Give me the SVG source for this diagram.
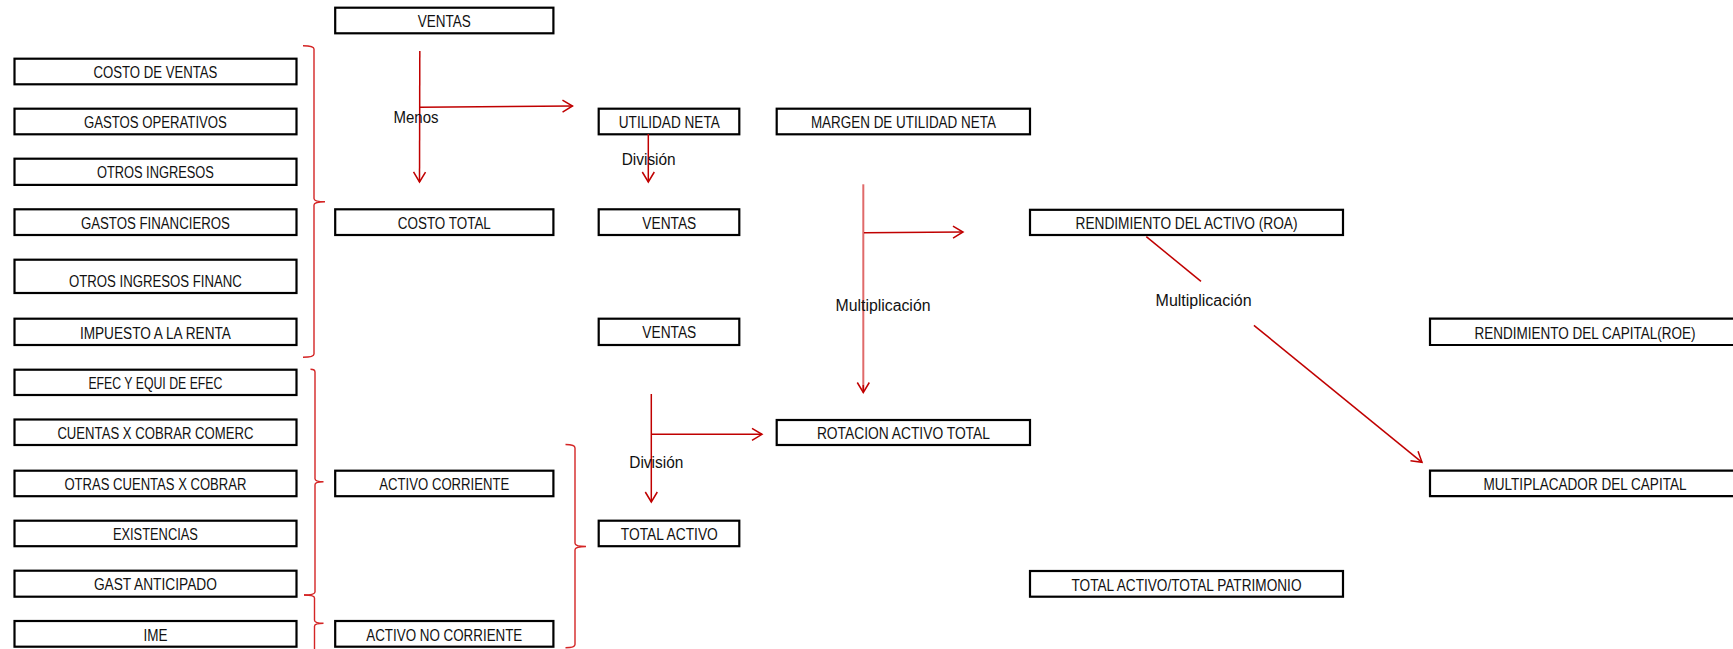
<svg xmlns="http://www.w3.org/2000/svg" width="1733" height="649" viewBox="0 0 1733 649">
  <style>
    .box { fill: #ffffff; stroke: #000000; stroke-width: 2.2; }
    .lbl { font-family: "Liberation Sans", Arial, sans-serif; font-size: 16px; fill: #111111; text-anchor: middle; }
    .op { font-family: "Liberation Sans", Arial, sans-serif; font-size: 16px; fill: #111111; text-anchor: middle; }
    .arrow { fill: none; stroke: #c00000; stroke-width: 1.5; }
    .soft { fill: none; stroke: #e06a6a; stroke-width: 2; }
    .brace { fill: none; stroke: #d42525; stroke-width: 1.4; }
  </style>
  <defs>
    <marker id="head" markerUnits="userSpaceOnUse" markerWidth="14" markerHeight="16" viewBox="0 0 14 16" refX="12" refY="8" orient="auto">
      <path d="M2,2 L12,8 L2,14" fill="none" stroke="#c00000" stroke-width="1.5"/>
    </marker>
  </defs>
  <rect width="1733" height="649" fill="#ffffff"/>

  <!-- left column: income statement items -->
  <g id="costo-de-ventas"><rect class="box" x="14.5" y="58.7" width="282" height="25.6"/><text class="lbl" x="155.4" y="78.2" textLength="124" lengthAdjust="spacingAndGlyphs">COSTO DE VENTAS</text></g>
  <g id="gastos-operativos"><rect class="box" x="14.5" y="108.7" width="282" height="25.6"/><text class="lbl" x="155.4" y="128.2" textLength="143" lengthAdjust="spacingAndGlyphs">GASTOS OPERATIVOS</text></g>
  <g id="otros-ingresos"><rect class="box" x="14.5" y="158.7" width="282" height="26.2"/><text class="lbl" x="155.4" y="178.2" textLength="117" lengthAdjust="spacingAndGlyphs">OTROS INGRESOS</text></g>
  <g id="gastos-financieros"><rect class="box" x="14.5" y="209.3" width="282" height="25.7"/><text class="lbl" x="155.4" y="228.8" textLength="149" lengthAdjust="spacingAndGlyphs">GASTOS FINANCIEROS</text></g>
  <g id="otros-ingresos-financ"><rect class="box" x="14.5" y="259.7" width="282" height="33.3"/><text class="lbl" x="155.4" y="287" textLength="173" lengthAdjust="spacingAndGlyphs">OTROS INGRESOS FINANC</text></g>
  <g id="impuesto-renta"><rect class="box" x="14.5" y="318.7" width="282" height="26.3"/><text class="lbl" x="155.4" y="339" textLength="151" lengthAdjust="spacingAndGlyphs">IMPUESTO A LA RENTA</text></g>

  <!-- left column: asset items -->
  <g id="efectivo"><rect class="box" x="14.5" y="369.7" width="282" height="25.3"/><text class="lbl" x="155.4" y="389.2" textLength="134" lengthAdjust="spacingAndGlyphs">EFEC Y EQUI DE EFEC</text></g>
  <g id="cuentas-cobrar-comerc"><rect class="box" x="14.5" y="419.5" width="282" height="25.5"/><text class="lbl" x="155.4" y="439" textLength="196" lengthAdjust="spacingAndGlyphs">CUENTAS X COBRAR COMERC</text></g>
  <g id="otras-cuentas-cobrar"><rect class="box" x="14.5" y="470.7" width="282" height="25.5"/><text class="lbl" x="155.4" y="490.2" textLength="182" lengthAdjust="spacingAndGlyphs">OTRAS CUENTAS X COBRAR</text></g>
  <g id="existencias"><rect class="box" x="14.5" y="520.7" width="282" height="25.5"/><text class="lbl" x="155.4" y="540.2" textLength="85" lengthAdjust="spacingAndGlyphs">EXISTENCIAS</text></g>
  <g id="gast-anticipado"><rect class="box" x="14.5" y="570.7" width="282" height="26"/><text class="lbl" x="155.4" y="590.2" textLength="123" lengthAdjust="spacingAndGlyphs">GAST ANTICIPADO</text></g>
  <g id="ime"><rect class="box" x="14.5" y="621" width="282" height="25.7"/><text class="lbl" x="155.4" y="640.5" textLength="24" lengthAdjust="spacingAndGlyphs">IME</text></g>

  <!-- second column -->
  <g id="ventas-top"><rect class="box" x="335.2" y="7.7" width="218.2" height="25.6"/><text class="lbl" x="444.3" y="27.2" textLength="53" lengthAdjust="spacingAndGlyphs">VENTAS</text></g>
  <g id="costo-total"><rect class="box" x="335.2" y="209.3" width="218.2" height="25.7"/><text class="lbl" x="444.3" y="228.8" textLength="93" lengthAdjust="spacingAndGlyphs">COSTO TOTAL</text></g>
  <g id="activo-corriente"><rect class="box" x="335.2" y="470.7" width="218.2" height="25.5"/><text class="lbl" x="444.3" y="490.2" textLength="130" lengthAdjust="spacingAndGlyphs">ACTIVO CORRIENTE</text></g>
  <g id="activo-no-corriente"><rect class="box" x="335.2" y="621" width="218.2" height="25.7"/><text class="lbl" x="444.3" y="640.5" textLength="156" lengthAdjust="spacingAndGlyphs">ACTIVO NO CORRIENTE</text></g>

  <!-- third column -->
  <g id="utilidad-neta"><rect class="box" x="598.7" y="108.7" width="140.6" height="25.6"/><text class="lbl" x="669.3" y="128.2" textLength="101" lengthAdjust="spacingAndGlyphs">UTILIDAD NETA</text></g>
  <g id="ventas-mid"><rect class="box" x="598.7" y="209.3" width="140.6" height="25.7"/><text class="lbl" x="669.3" y="228.8" textLength="54" lengthAdjust="spacingAndGlyphs">VENTAS</text></g>
  <g id="ventas-low"><rect class="box" x="598.7" y="318.7" width="140.6" height="26.3"/><text class="lbl" x="669.3" y="338.4" textLength="54" lengthAdjust="spacingAndGlyphs">VENTAS</text></g>
  <g id="total-activo"><rect class="box" x="598.7" y="520.7" width="140.6" height="25.5"/><text class="lbl" x="669.3" y="540.2" textLength="97" lengthAdjust="spacingAndGlyphs">TOTAL ACTIVO</text></g>

  <!-- ratio boxes -->
  <g id="margen-utilidad"><rect class="box" x="776.7" y="108.7" width="253.3" height="25.6"/><text class="lbl" x="903.4" y="128.2" textLength="185" lengthAdjust="spacingAndGlyphs">MARGEN DE UTILIDAD NETA</text></g>
  <g id="rotacion-activo"><rect class="box" x="776.7" y="420" width="253.3" height="25"/><text class="lbl" x="903.4" y="439.3" textLength="173" lengthAdjust="spacingAndGlyphs">ROTACION ACTIVO TOTAL</text></g>
  <g id="roa"><rect class="box" x="1030" y="209.8" width="313" height="25.2"/><text class="lbl" x="1186.5" y="229" textLength="222" lengthAdjust="spacingAndGlyphs">RENDIMIENTO DEL ACTIVO (ROA)</text></g>
  <g id="activo-patrimonio"><rect class="box" x="1030" y="571" width="313" height="25.7"/><text class="lbl" x="1186.5" y="590.5" textLength="230" lengthAdjust="spacingAndGlyphs">TOTAL ACTIVO/TOTAL PATRIMONIO</text></g>
  <!-- these two boxes run past the right edge, so only three sides are drawn -->
  <g id="roe"><path class="box" d="M1733,318.7 H1430 V345 H1733"/><text class="lbl" x="1585" y="338.6" textLength="221" lengthAdjust="spacingAndGlyphs">RENDIMIENTO DEL CAPITAL(ROE)</text></g>
  <g id="multiplicador"><path class="box" d="M1733,470.7 H1430 V496.2 H1733"/><text class="lbl" x="1585" y="490.2" textLength="203" lengthAdjust="spacingAndGlyphs">MULTIPLACADOR DEL CAPITAL</text></g>

  <!-- grouping braces -->
  <g id="braces">
    <path class="brace" d="M303,45.8 Q314,45.8 314,49 L314,198.5 Q314,201.8 325,201.8 Q314,201.8 314,205 L314,354 Q314,357.2 303,357.2"/>
    <path class="brace" d="M310.5,369.3 Q315,369.3 315,372 L315,478.8 Q315,481.8 323.5,481.8 Q315,481.8 315,484.8 L315,592 Q315,595 304,595"/>
    <path class="brace" d="M304,595 Q314.5,595 314.5,598 L314.5,620.3 Q314.5,623.3 323.5,623.3 Q314.5,623.3 314.5,626.3 L314.5,649"/>
    <path class="brace" d="M565.5,444.5 Q575,444.5 575,448 L575,543.3 Q575,546.5 586,546.5 Q575,546.5 575,549.7 L575,644.5 Q575,647.7 565.5,647.7"/>
  </g>

  <!-- operation connectors -->
  <g id="connectors">
    <path class="arrow" d="M419.8,51 L419.5,182" marker-end="url(#head)"/>
    <path class="arrow" d="M420,107.3 L572.5,106" marker-end="url(#head)"/>
    <path class="arrow" d="M648.3,134 L648.3,182" marker-end="url(#head)"/>
    <path class="soft" d="M863.3,184.3 L863.3,390"/>
    <path class="arrow" d="M863.3,385 L863.3,392.5" marker-end="url(#head)"/>
    <path class="arrow" d="M864,232.7 L963,232" marker-end="url(#head)"/>
    <path class="arrow" d="M651.3,394 L651.3,502" marker-end="url(#head)"/>
    <path class="arrow" d="M651.3,434.3 L762,434.3" marker-end="url(#head)"/>
    <path class="arrow" d="M1146.3,236.7 L1201,281.3"/>
    <path class="arrow" d="M1253.9,325.3 L1422,462.3" marker-end="url(#head)"/>
  </g>

  <!-- operation labels -->
  <g id="labels">
    <text class="op" x="416" y="123.3" textLength="45" lengthAdjust="spacingAndGlyphs">Menos</text>
    <text class="op" x="648.7" y="164.7" textLength="54" lengthAdjust="spacingAndGlyphs">División</text>
    <text class="op" x="883" y="310.7" textLength="95" lengthAdjust="spacingAndGlyphs">Multiplicación</text>
    <text class="op" x="656.3" y="468.3" textLength="54" lengthAdjust="spacingAndGlyphs">División</text>
    <text class="op" x="1203.6" y="306" textLength="96" lengthAdjust="spacingAndGlyphs">Multiplicación</text>
  </g>
</svg>
